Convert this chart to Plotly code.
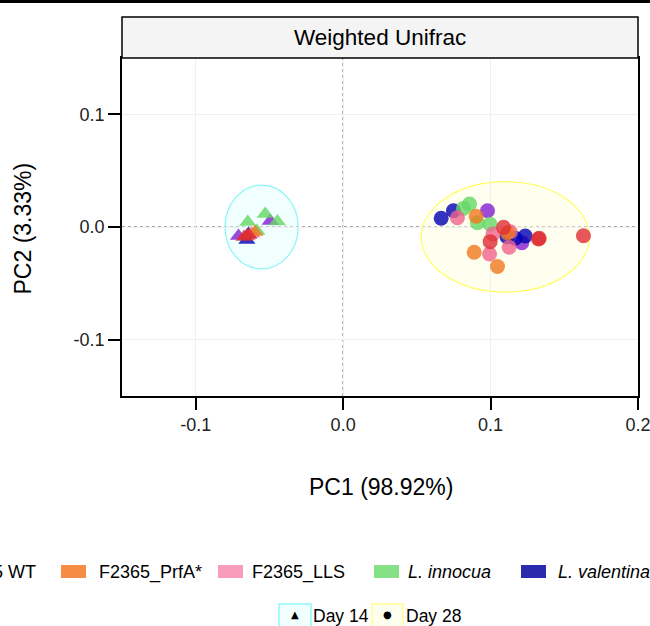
import plotly.graph_objects as go

# ---------------- data ----------------
groups = ["Purple group", "L. valentina", "L. innocua", "F2365_LLS", "F2365_PrfA*", "F2365 WT"]
colors = {
    "F2365 WT": "#DE2D32",
    "F2365_PrfA*": "#F0781E",
    "F2365_LLS": "#F0648C",
    "L. innocua": "#64D764",
    "L. valentina": "#0000B4",
    "Purple group": "#821ED2",
}

d14_x = {
    "F2365 WT": [-0.0653, -0.0672, -0.0640],
    "F2365_PrfA*": [-0.0597],
    "F2365_LLS": [-0.0620],
    "L. innocua": [-0.0529, -0.0446, -0.0647, -0.0585],
    "L. valentina": [-0.0642, -0.0653],
    "Purple group": [-0.0495, -0.0710],
}
d14_y = {
    "F2365 WT": [-0.0080, -0.0088, -0.0070],
    "F2365_PrfA*": [-0.0044],
    "F2365_LLS": [-0.0060],
    "L. innocua": [0.0115, 0.0049, 0.0044, -0.0035],
    "L. valentina": [-0.0062, -0.0115],
    "Purple group": [0.0053, -0.0080],
}
d28_x = {
    "F2365 WT": [0.1088, 0.1325, 0.0997, 0.1630, 0.1330],
    "F2365_PrfA*": [0.0902, 0.1116, 0.0889, 0.1047],
    "F2365_LLS": [0.0775, 0.1016, 0.1133, 0.1126, 0.0993],
    "L. innocua": [0.0816, 0.0857, 0.0911, 0.0997],
    "L. valentina": [0.0665, 0.0748, 0.1111, 0.1167, 0.1235],
    "Purple group": [0.0979, 0.1212],
}
d28_y = {
    "F2365 WT": [-0.0003, -0.0106, -0.0130, -0.0077, -0.0100],
    "F2365_PrfA*": [0.0095, -0.0053, -0.0224, -0.0351],
    "F2365_LLS": [0.0082, -0.0062, -0.0042, -0.0180, -0.0239],
    "L. innocua": [0.0165, 0.0204, 0.0038, 0.0024],
    "L. valentina": [0.0077, 0.0144, -0.0086, -0.0100, -0.0080],
    "Purple group": [0.0144, -0.0139],
}

# ellipse summaries (center x, center y, radius x, radius y)
ell_day14 = [-0.0553, 0.0, 0.0248, 0.0372]
ell_day28 = [0.110, -0.0088, 0.057, 0.049]

x_ticks = [-0.1, 0.0, 0.1, 0.2]
x_ticktext = ["-0.1", "0.0", "0.1", "0.2"]
y_ticks = [-0.1, 0.0, 0.1]
y_ticktext = ["-0.1", "0.0", "0.1"]

legend_items = [
    ("F2365 WT", "#E04045", False),
    ("F2365_PrfA*", "#F58D47", False),
    ("F2365_LLS", "#F99CBB", False),
    ("<i>L. innocua</i>", "#86E086", True),
    ("<i>L. valentina</i>", "#2B2BAE", True),
]

# ---------------- layout geometry ----------------
W, H = 650, 626
L, R, T, B = 122, 12, 58, 230
PW, PH = W - L - R, H - T - B
FONT = "Liberation Sans, Arial, sans-serif"


def px(xp):
    return (xp - L) / PW


def py(yp):
    return (H - B - yp) / PH


fig = go.Figure()

for g in groups:
    fig.add_trace(go.Scatter(
        x=d14_x[g], y=d14_y[g], mode="markers", name=g + " Day 14",
        marker=dict(symbol="triangle-up", size=15, color=colors[g], opacity=0.8,
                    line=dict(width=0)),
        showlegend=False))
for g in groups:
    fig.add_trace(go.Scatter(
        x=d28_x[g], y=d28_y[g], mode="markers", name=g + " Day 28",
        marker=dict(symbol="circle", size=15, color=colors[g], opacity=0.8,
                    line=dict(width=0)),
        showlegend=False))

shapes = []
# ellipses
for (cx, cy, rx, ry), fill, line in [
    (ell_day14, "rgba(225,255,255,0.45)", "#8CF5F5"),
    (ell_day28, "rgba(255,255,220,0.45)", "#FFFF55"),
]:
    shapes.append(dict(type="circle", xref="x", yref="y", x0=cx - rx, x1=cx + rx,
                       y0=cy - ry, y1=cy + ry, fillcolor=fill,
                       line=dict(color=line, width=1.2), layer="below"))
# dotted zero lines
shapes.append(dict(type="line", xref="x", yref="paper", x0=0, x1=0, y0=0, y1=1,
                   line=dict(color="#8C8C8C", width=1.5, dash="dot"), layer="below"))
shapes.append(dict(type="line", xref="paper", yref="y", x0=0, x1=1, y0=0, y1=0,
                   line=dict(color="#8C8C8C", width=1.5, dash="dot"), layer="below"))
# strip
shapes.append(dict(type="rect", xref="paper", yref="paper", x0=0, x1=1,
                   y0=1, y1=py(17), fillcolor="#F4F4F4",
                   line=dict(color="black", width=1.5), layer="above"))
# top rule
shapes.append(dict(type="line", xref="paper", yref="paper", x0=px(-10), x1=px(W + 10),
                   y0=py(1.5), y1=py(1.5), line=dict(color="black", width=3)))

annotations = [
    dict(text="Weighted Unifrac", xref="paper", yref="paper", x=0.5, y=py(37.5),
         showarrow=False, font=dict(family=FONT, size=22.5, color="black"),
         xanchor="center", yanchor="middle"),
    dict(text="PC1 (98.92%)", xref="paper", yref="paper", x=px(381), y=py(487),
         showarrow=False, font=dict(family=FONT, size=23, color="black"),
         xanchor="center", yanchor="middle"),
    dict(text="PC2 (3.33%)", xref="paper", yref="paper", x=px(22.5), y=py(229),
         showarrow=False, textangle=-90, font=dict(family=FONT, size=23, color="black"),
         xanchor="center", yanchor="middle"),
]

# legend row 1 (fill legend)
row1_y = 572
swatch_left = [-80, 61, 218, 374, 521]
text_left = [-80 + 35, 97, 250, 406, 556]
for i, (lab, col, ital) in enumerate(legend_items):
    shapes.append(dict(type="rect", xref="paper", yref="paper",
                       x0=px(swatch_left[i]), x1=px(swatch_left[i] + 25),
                       y0=py(565), y1=py(578), fillcolor=col,
                       line=dict(color=col, width=0)))
    if i == 0:
        annotations.append(dict(text=lab, xref="paper", yref="paper", x=px(38), y=py(row1_y),
                                showarrow=False, xanchor="right", yanchor="middle",
                                font=dict(family=FONT, size=18, color="black")))
    else:
        annotations.append(dict(text=lab, xref="paper", yref="paper", x=px(text_left[i]),
                                y=py(row1_y), showarrow=False, xanchor="left",
                                yanchor="middle",
                                font=dict(family=FONT, size=18, color="black")))

# legend row 2 (shape legend)
row2_y = 616
for (x0, x1, fill, line, glyph, tx, lab) in [
    (279, 311, "#F2FFFF", "#90F8F8", "▲", 311, "Day 14"),
    (372, 403, "#FFFFF0", "#FFFF90", "●", 404, "Day 28"),
]:
    shapes.append(dict(type="rect", xref="paper", yref="paper", x0=px(x0), x1=px(x1),
                       y0=py(604), y1=py(628), fillcolor=fill,
                       line=dict(color=line, width=1.5)))
    annotations.append(dict(text=glyph, xref="paper", yref="paper", x=px((x0 + x1) / 2),
                            y=py(614), showarrow=False, xanchor="center", yanchor="middle",
                            font=dict(family="DejaVu Sans", size=10, color="black")))
    annotations.append(dict(text=lab, xref="paper", yref="paper", x=px(tx), y=py(row2_y),
                            showarrow=False, xanchor="left", yanchor="middle",
                            font=dict(family=FONT, size=17.5, color="black")))

axis_common = dict(showline=True, linecolor="black", linewidth=1.5, mirror=True,
                   ticks="outside", ticklen=12, tickwidth=1.5, tickcolor="black",
                   showgrid=True, gridcolor="#F0F0F0", gridwidth=1, zeroline=False,
                   ticklabeloverflow="allow",
                   tickfont=dict(family=FONT, size=18, color="#222222"))

fig.update_layout(
    width=W, height=H, margin=dict(l=L, r=R, t=T, b=B, autoexpand=False),
    paper_bgcolor="white", plot_bgcolor="white",
    xaxis=dict(range=[-0.15, 0.2], tickvals=x_ticks, ticktext=x_ticktext, **axis_common),
    yaxis=dict(range=[-0.15, 0.15], tickvals=y_ticks, ticktext=y_ticktext, **axis_common),
    shapes=shapes, annotations=annotations, showlegend=False,
)

fig.write_html("out.html")
